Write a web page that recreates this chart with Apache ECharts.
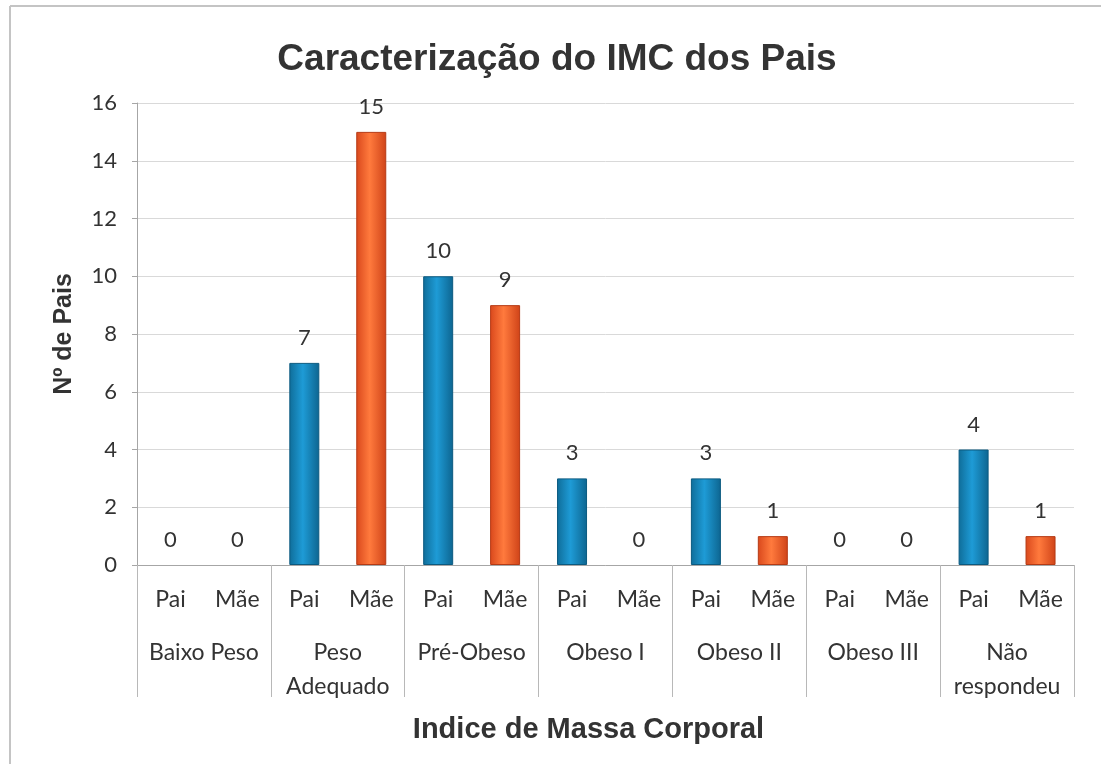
<!DOCTYPE html>
<html>
<head>
<meta charset="utf-8">
<script src="https://cdn.jsdelivr.net/npm/echarts@6/dist/echarts.min.js"></script>
<style>
  html, body { margin: 0; padding: 0; background: #fff; }
  #chart { width: 1101px; height: 764px; }
</style>
</head>
<body>
<div id="chart"></div>
<script>
var grupos = ["Baixo Peso", "Peso\nAdequado", "Pré-Obeso", "Obeso I", "Obeso II", "Obeso III", "Não\nrespondeu"];
var pais = ["Pai", "Mãe"];
var valoresPai = [0, 7, 10, 3, 3, 0, 4];
var valoresMae = [0, 15, 9, 0, 1, 0, 1];
var yTicks = [0, 2, 4, 6, 8, 10, 12, 14, 16];

var corPai = new echarts.graphic.LinearGradient(0, 0, 1, 0, [
  { offset: 0, color: "#0f6d99" },
  { offset: 0.45, color: "#1e9bd6" },
  { offset: 1, color: "#0d6590" }
]);
var corMae = new echarts.graphic.LinearGradient(0, 0, 1, 0, [
  { offset: 0, color: "#d9481c" },
  { offset: 0.45, color: "#ff7a3d" },
  { offset: 1, color: "#cf4318" }
]);

var categorias = [];
var dados = [];
for (var i = 0; i < grupos.length; i++) {
  categorias.push(pais[0], pais[1]);
  dados.push({ value: valoresPai[i], itemStyle: { color: corPai, borderColor: "#0b5a80", borderWidth: valoresPai[i] ? 1 : 0 } });
  dados.push({ value: valoresMae[i], itemStyle: { color: corMae, borderColor: "#b53a14", borderWidth: valoresMae[i] ? 1 : 0 } });
}

var myChart = echarts.init(document.getElementById("chart"));
myChart.setOption({
  backgroundColor: "#fff",
  animation: false,
  title: {
    text: "Caracterização do IMC dos Pais",
    left: 552,
    textAlign: "center",
    top: 36,
    textStyle: { fontFamily: "Liberation Sans", fontSize: 37, fontWeight: "bold", color: "#333" }
  },
  graphic: [
    { type: "line", shape: { x1: 10, y1: 6, x2: 1101, y2: 6 }, style: { stroke: "#c4c4c4", lineWidth: 2 } },
    { type: "line", shape: { x1: 10, y1: 6, x2: 10, y2: 764 }, style: { stroke: "#c4c4c4", lineWidth: 2 } }
  ],
  grid: { left: 137, right: 27, top: 103, bottom: 199 },
  xAxis: [
    {
      type: "category",
      data: categorias,
      position: "bottom",
      axisLine: { lineStyle: { color: "#a6a6a6" } },
      axisTick: { show: false },
      axisLabel: { margin: 23, fontFamily: "Lato", fontSize: 23, color: "#333", interval: 0 }
    },
    {
      type: "category",
      data: grupos,
      position: "bottom",
      axisLine: { show: false },
      axisTick: { show: true, length: 132, lineStyle: { color: "#b8b8b8" } },
      axisLabel: { margin: 71, fontFamily: "Lato", fontSize: 23, color: "#333", interval: 0, lineHeight: 34 },
      name: "Indice de Massa Corporal",
      nameLocation: "middle",
      nameGap: 150,
      nameTextStyle: { fontFamily: "Liberation Sans", fontSize: 29, fontWeight: "bold", color: "#333", padding: [0, 34, 0, 0] }
    }
  ],
  yAxis: {
    type: "value",
    min: yTicks[0],
    max: yTicks[yTicks.length - 1],
    interval: 2,
    name: "Nº de Pais",
    nameLocation: "middle",
    nameGap: 60,
    nameTextStyle: { fontFamily: "Liberation Sans", fontSize: 25, fontWeight: "bold", color: "#333" },
    axisLine: { show: true, lineStyle: { color: "#a6a6a6" } },
    axisTick: { show: true, length: 5, lineStyle: { color: "#a6a6a6" } },
    axisLabel: { margin: 20, fontFamily: "Lato", fontSize: 22, color: "#333" },
    splitLine: { lineStyle: { color: "#d9d9d9" } }
  },
  series: [
    {
      type: "bar",
      xAxisIndex: 0,
      data: dados,
      barWidth: 30,
      label: {
        show: true,
        position: "top",
        distance: 14,
        fontFamily: "Lato",
        fontSize: 22,
        color: "#333"
      }
    }
  ]
});
</script>
</body>
</html>
